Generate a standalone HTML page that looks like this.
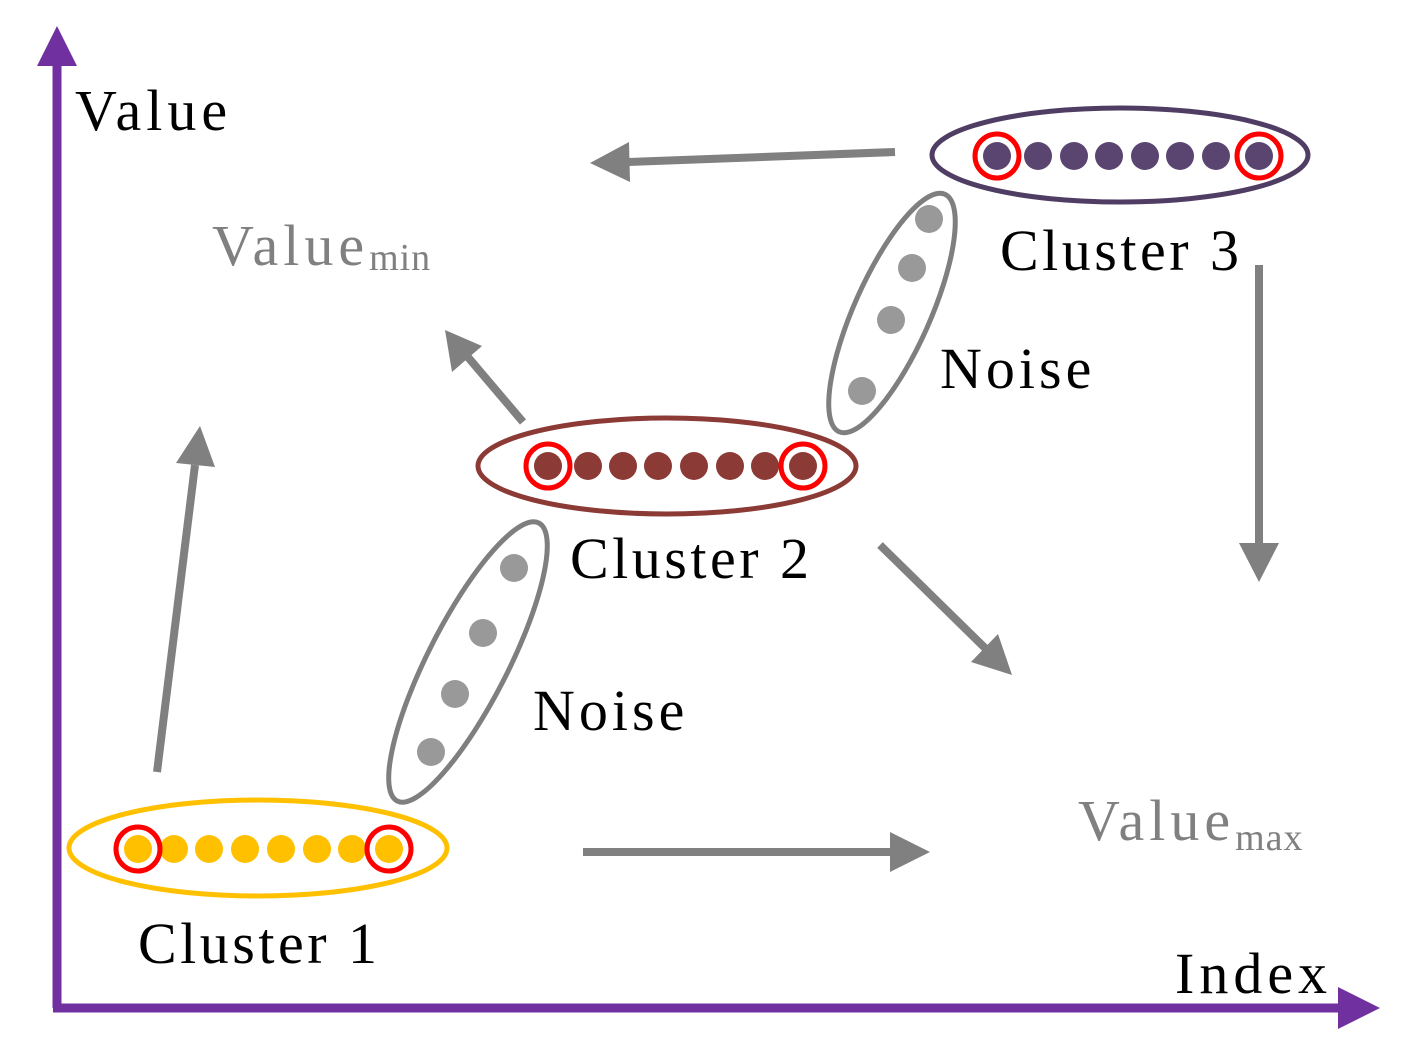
<!DOCTYPE html>
<html><head><style>html,body{margin:0;padding:0;background:#fff}</style></head><body>
<svg width="1414" height="1056" viewBox="0 0 1414 1056" xmlns="http://www.w3.org/2000/svg" font-family="Liberation Serif, serif">
<!-- axes -->
<line x1="57" y1="1008" x2="57" y2="60" stroke="#7030A0" stroke-width="9"/>
<polygon points="57,26 37,66 77,66" fill="#7030A0"/>
<line x1="53" y1="1008" x2="1345" y2="1008" stroke="#7030A0" stroke-width="9"/>
<polygon points="1380,1008 1338,987 1338,1029" fill="#7030A0"/>
<text x="75" y="130" font-size="58" letter-spacing="5">Value</text>
<text x="1175" y="993" font-size="58" letter-spacing="5">Index</text>
<!-- grey arrows -->
<g stroke="#808080" stroke-width="8" fill="#808080">
<line x1="157" y1="772" x2="195" y2="465"/>
<polygon points="200,426 176,463 215,467" stroke="none"/>
<line x1="523" y1="422" x2="467" y2="356"/>
<polygon points="445,330 452,372 482,346" stroke="none"/>
<line x1="895" y1="152" x2="628" y2="162"/>
<polygon points="590,163 630,182 629,142" stroke="none"/>
<line x1="1259" y1="265" x2="1259" y2="545"/>
<polygon points="1259,582 1239,543 1279,543" stroke="none"/>
<line x1="880" y1="545" x2="985" y2="648"/>
<polygon points="1012,675 998,634 971,662" stroke="none"/>
<line x1="583" y1="852" x2="893" y2="852"/>
<polygon points="930,852 890,832 890,872" stroke="none"/>
</g>
<text x="212" y="265" font-size="58" fill="#808080" letter-spacing="5">Value<tspan font-size="38" dy="5" letter-spacing="1">min</tspan></text>
<text x="1078" y="840" font-size="58" fill="#808080" letter-spacing="5">Value<tspan font-size="38" dy="10" letter-spacing="1">max</tspan></text>
<!-- noise 1 -->
<ellipse cx="468" cy="662" rx="156" ry="40" transform="rotate(-63 468 662)" fill="none" stroke="#7f7f7f" stroke-width="5"/>
<g fill="#999"><circle cx="514" cy="568" r="14"/><circle cx="483" cy="633" r="14"/><circle cx="455" cy="694" r="14"/><circle cx="431" cy="752" r="14"/></g>
<!-- noise 2 -->
<ellipse cx="892" cy="313" rx="130" ry="38" transform="rotate(-66 892 313)" fill="none" stroke="#7f7f7f" stroke-width="5"/>
<g fill="#999"><circle cx="929" cy="219" r="14"/><circle cx="912" cy="268" r="14"/><circle cx="891" cy="320" r="14"/><circle cx="862" cy="391" r="14"/></g>
<text x="940" y="388" font-size="58" letter-spacing="4">Noise</text>
<text x="533" y="730" font-size="58" letter-spacing="4">Noise</text>
<!-- cluster 1 -->
<ellipse cx="258" cy="848" rx="189" ry="48" fill="none" stroke="#FFC000" stroke-width="5"/>
<g fill="#FFC000"><circle cx="138" cy="849" r="14"/><circle cx="174" cy="849" r="14"/><circle cx="209" cy="849" r="14"/><circle cx="245" cy="849" r="14"/><circle cx="281" cy="849" r="14"/><circle cx="317" cy="849" r="14"/><circle cx="352" cy="849" r="14"/><circle cx="389" cy="849" r="14"/></g>
<g fill="none" stroke="#FF0000" stroke-width="5"><circle cx="138" cy="849" r="22"/><circle cx="389" cy="849" r="22"/></g>
<text x="138" y="963" font-size="58" letter-spacing="3.5">Cluster 1</text>
<!-- cluster 2 -->
<ellipse cx="667" cy="466" rx="189" ry="48" fill="none" stroke="#8B3A35" stroke-width="5"/>
<g fill="#8B3A35"><circle cx="548" cy="466" r="14"/><circle cx="588" cy="466" r="14"/><circle cx="623" cy="466" r="14"/><circle cx="658" cy="466" r="14"/><circle cx="694" cy="466" r="14"/><circle cx="730" cy="466" r="14"/><circle cx="765" cy="466" r="14"/><circle cx="803" cy="466" r="14"/></g>
<g fill="none" stroke="#FF0000" stroke-width="5"><circle cx="548" cy="466" r="22"/><circle cx="803" cy="466" r="22"/></g>
<text x="570" y="578" font-size="58" letter-spacing="3.5">Cluster 2</text>
<!-- cluster 3 -->
<ellipse cx="1120" cy="155" rx="188" ry="47" fill="none" stroke="#4F3D63" stroke-width="5"/>
<g fill="#5A4570"><circle cx="997" cy="156" r="14"/><circle cx="1038" cy="156" r="14"/><circle cx="1074" cy="156" r="14"/><circle cx="1109" cy="156" r="14"/><circle cx="1145" cy="156" r="14"/><circle cx="1180" cy="156" r="14"/><circle cx="1216" cy="156" r="14"/><circle cx="1259" cy="156" r="14"/></g>
<g fill="none" stroke="#FF0000" stroke-width="5"><circle cx="997" cy="156" r="22"/><circle cx="1259" cy="156" r="22"/></g>
<text x="1000" y="270" font-size="58" letter-spacing="3.5">Cluster 3</text>
</svg>
</body></html>
